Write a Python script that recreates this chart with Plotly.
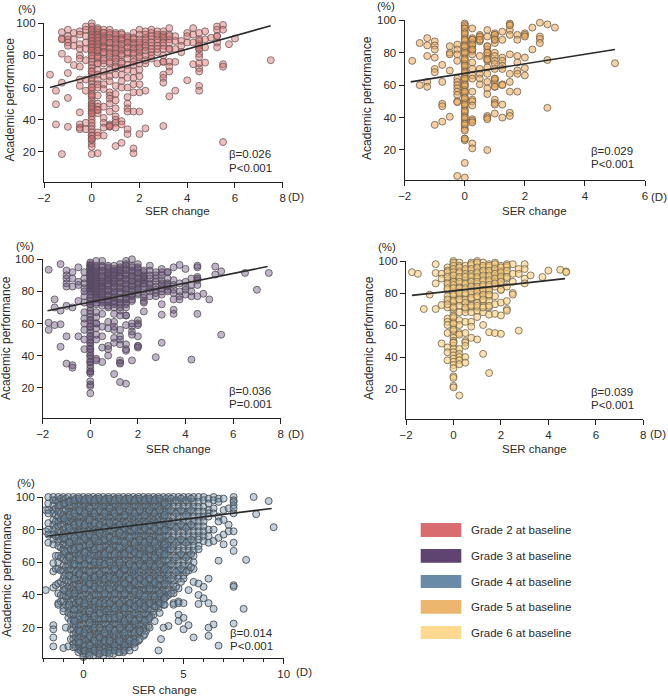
import plotly.graph_objects as go

FONT = "Liberation Sans"
TEXT = "#2b2b2b"

# ---------- data: SER change columns and the academic performance values read in each ----------
g2_x = [-1.75,-1.5,-1.25,-1,-0.75,-0.5,-0.25,0,0.25,0.5,0.75,1,1.25,1.5,1.75,2,2.25,2.5,2.75,3,3.25,3.5,3.75,4,4.25,4.5,4.75,5,5.25,5.5,5.75,6,7.5]
g2_y = [
 [68],[58,49.5,37],[94.5,90.5,90,81,63,18.5],[96,92,90,88,86,77.5,69,53.5,35.5],[94,90,86,74],
 [95,93,87,84,80,78,73,65,61,44.5,37,35,34],[98,96,92,88,84,77,65,58,38,34],
 [100,98,96,95,94,92,91,90,89,88,87,86,85,84,82,80,78,76,74,72,70,68,66,64,62,60,58,56,54,52,50,49,48,46,45,44,42,40,38,36,34,32,30,28,27,25,23,18.5],
 [97,95,94,92,91,90,88,86,84,82,80,78,75,71,68,65,62,60,55,50,48,46,44,32,30,19],
 [96,94,92,90,88,86,84,82,78,75,70,67,62,59,48,41,38,35,30],
 [96,93,90,88,85,82,79,75,71,67,64,57,55,53,50,45,37,36,35.5],
 [94,92,90,88,85,82,79,76,72,68,61,56,52,47,42,40,38,35,23.5],
 [94,91,89,86,83,80,76,72,68,64,60,39,37,25.5],
 [92,90,88,85,81,78,74,71,66,60,54,50,47,45,34,31],
 [94,91,88,85,82,78,74,70,66,62,57,45,22,19],
 [96,93,90,87,84,80,75,71,67,62,57,45,31],
 [95,91,88,85,80,75,58,34.5],[96,94,90,86,82,78],[95,92,88,82,75],
 [95,92,90,86,80,76,68,66,63,36],[97,93,90,84,76,73,70,54.5],[92,76,58],[89,86,82],[94,92,88,64.5],
 [97,93,88,74.5],[94,90,87,84,81,79,75,72,70,61,58],[95,90,85,75.5],[91],[98,96,92,88,85],
 [99,96,74.5,73,26],[87],[90.5],[77]]
# repeated readings where the reference marks pile up
g2_x_more = [0,0.25,0.5,0.75,1,1.25,1.5,1.75,2,2.25,2.5,2.75,3,3.25,3.5,4.5,5.25]
g2_y_more = [
 [96,93,91,89,87,85,83,80,70,60,55,47,44,30,28],
 [96,93,91,89,87,85,83,79,75,46],
 [94,91,89,85,82,77],
 [94,91,88,84,81,76,36],
 [93,90,87,84,81,78,73],
 [93,90,87,84,81,75],
 [91,88,85,82],
 [90,87,84,81,76],
 [88,85,82,79],
 [93,90,86,83,77],[92,88,84,80],[93,90,86,84],[93,91,88,84,76],[92,88,84],[89,84],[89,86,84],[92]]
g2_line_x = [-1.75,7.5]
g2_line_y = [60,98.5]

g3_x = [-1.75,-1.5,-1.25,-1,-0.75,-0.5,-0.25,0,0.25,0.5,0.75,1,1.25,1.5,1.75,2,2.25,2.5,2.75,3,3.25,3.5,3.75,4,4.25,4.5,4.75,5,5.25,5.5,6.5,7,7.5]
g3_y = [
 [93.5,60.5,56],[75,70,59],[97,68,59.5,45.5],[93,90,88,85,83,71,52,35],[92,88,83,70,34,32.5],[95,86,84,74,52],
 [92,88,85,82,80,77,73,67,63,60,56,50,44],
 [98,97,96,95,94,93,92,91,90,89,88,87,86,85,84,83,82,81,80,78,76,74,72,70,68,66,64,62,60,58,56,54,52,50,48,46,44,42,40,38,36,34,32,30,29,24,22,21,16.5],
 [99,96,94,92,90,88,86,84,82,80,78,76,72,67,64,60,57,53,50,38,37],
 [99,96,93,90,87,85,83,80,78,74,71,66,58,52,45,36],
 [96,94,91,89,87,84,81,78,74,71,70,61,57,46,44,40],
 [96,93,91,88,86,83,80,77,74,70,66,61,58,56,51,48,28.5],
 [97,94,92,89,86,83,80,76,73,70,68,56,52,50,47,37,35.5,35,23.5],
 [99,97,94,91,88,85,82,79,76,73,70,65,59,47,44,43,22.5],
 [100,96,93,90,87,84,81,78,75,60,58,55,53,37],
 [97,94,92,89,86,84,81,78,62,60,52,46,45],
 [93,90,88,85,78,74,73,67.5],[96,93,88,84,80],[92,88,83,79,77,39],[94,90,87,85,82,80,72,65.5,48],
 [92,88,85,81,80],[95,87,84,81,79,75,68.5,66],[96.5,85,80,77,75],[94,86,83,81,78],[88,84,80,77,37.5],
 [96,95,89,87,84,77,66],[78.5],[75],[95.5,90.5],[92.5,53],[91.5],[81],[91.5]]
g3_x_more = [0,0.25,0.5,0.75,1,1.25,1.5,1.75,2,2.25,2.5,2.75,3,3.25,4.5]
g3_y_more = [
 [96,94,92,90,88,86,84,82,80,76,72,62,58,52,48,44,40,36,30],
 [95,93,91,89,87,85,83,81,79,77,75,73,60],
 [95,92,89,86,84,82,79,77,75,73],
 [95,92,90,88,85,83,80,77,75,73],
 [94,92,90,87,85,82,79,76,73,72],
 [95,93,90,88,85,82,79,75,72,65],
 [96,93,90,87,84,81,78,75,72,65],
 [95,92,89,86,83,80,77,74],
 [95,91,88,85,82,79,59,46],
 [92,89,87,85,83,81,76],[90,85,82,77],[90,86,81],[92,84,78],[92,84,83],[88]]
g3_line_x = [-1.8,7.45]
g3_line_y = [68,95.5]

g5_x = [-1.75,-1.5,-1.25,-1,-0.75,-0.5,-0.25,0,0.25,0.5,0.75,1,1.25,1.5,1.75,2,2.25,2.5,2.75,3,5]
g5_y = [
 [75],[86,60],[89,84.5,78,62,59],[87,84.5,82,77,70,68,35.5],[72.5,62,48.5,47,37.5],[84,80,79,69,40.5],
 [85,82,79,75,64,62,60,58,56,54,50,49.5,4],
 [98,96,95,93,91,89,87,85,83,81,79,77,75,73,71,69,67,65,63,61,59,57,55,53,51,49,47,45,43,41,39,37,35,33,27,26,12,3],
 [95,89,88,86,84,82,81,79,74,70,66,64,56,51,50,47.5,39,38,37,24,21],
 [91,90,88,87,78,70,67,64,60.5],
 [94,90,84,82,80,78,76,75,71,67,62,58,54.5,41,40,39,20],
 [92,91,89,88,86,80,78,75,73,70,64,63,61,59,51,49,48,42.5],
 [93,88,77,75,72,70,60.5,60,48,40],
 [98,97,94,91,79,67,62,56,43,41],
 [91,88,78,74,69,67,56],
 [92,91,90,77,70.5,66],[95.5,82],[98.5,90,88.5,86],[97.5,75.5,46],[95.5],[73.5]]
g5_x_more = [0,0.25,0.5,0.75,1,1.5]
g5_y_more = [[97,95,92,88,84,80,76,72,68,64,60,56,52,48,44,40,36,32,27],[88,85,82],[90,88],[84,80,76],[91,88,64,59],[97]]
g5_line_x = [-1.8,5]
g5_line_y = [62,82]

g6_x = [-1.75,-1.5,-1.25,-1,-0.75,-0.5,-0.25,0,0.25,0.5,0.75,1,1.25,1.5,1.75,2,2.25,2.5,2.75,3,3.25,3.75,4,4.5,4.75]
g6_y = [
 [93],[92],[70],[79],[98,92.5,86,70],[92,89,72.5,48.5],[96,94,91,88,85,82,78,75,71,64,62,60,55,46,43,38],
 [100,98,96,94,92,90,88,86,84,82,80,78,76,74,72,70,68,66,64,62,60,58,56,54,52,50,49,47,45,43,41,39,37,35,33,28,27,22,21],
 [99,97,94,92,89,86,84,81,78,75,72,68,63,60,55,54,45,42,40,38,35.5,16],
 [97,94,91,88,85,82,79,76,73,70,68,62,55,50,49,47,40,36.5],
 [99,97,94,91,88,85,82,79,76,73,71,68,62,59,52],
 [100,98,95,92,89,86,83,80,77,74,71,69,65,51],
 [99,96,93,90,87,84,81,78,75,72,68,60,42],
 [98,96,93,90,87,84,81,78,75,71,66.5,55.5,30],
 [99,96,93,90,87,84,78,73,67,55],
 [97,94,91,88,85,82,74,66,54.5],
 [98,96,92,89,84,75,70,69],[98,92,87,80,79],[95,92,56.5],[98,95,89,86],[91],[90],[94],[94.5],[93.5,93]]
g6_x_more = [-0.25,0,0.25,0.5,0.75,1,1.25,1.5,1.75,2,2.25]
g6_y_more = [
 [93,90,86,83,76,73],[99,97,95,93,91,87,85,83,79,75,71,65,61,57,49],[96,93,90,87,83,80,76],
 [95,92,90,86,83,80,74,71],[98,95,92,90,87,84,81,77,72],[99,96,93,90,87,84,81,78,72],
 [97,94,91,88,85,82,79,76,71],[97,94,91,88,85,82,79,72],[98,95,92,89,86],[96,93,90,87,82],[97,94,90]]
g6_line_x = [-1.75,4.7]
g6_line_y = [78.5,89]

g4_x = [-1.875,-1.75,-1.5,-1.375,-1.25,-1.125,-1,-0.875,-0.75,-0.625,-0.5,-0.375,-0.25,-0.125,0,0.125,0.25,0.375,0.5,0.625,0.75,0.875,1,1.125,1.25,1.375,1.5,1.625,1.75,1.875,2,2.125,2.25,2.375,2.5,2.625,2.75,2.875,3,3.125,3.25,3.375,3.5,3.625,3.75,3.875,4,4.125,4.25,4.5,4.75,5,5.25,5.5,5.75,6,6.25,6.5,6.75,7,7.25,7.5,8,8.125,8.5,8.625,9.25,9.5]
g4_y = [
 [92,79,43],
 [100,96,92,90,84,80,77,72],
 [100,98,95,92,90,86,83,80,77,74,71,59.5,54.5,44.5,21.5,19,14,8.5],
 [98,93,89,85,81,76,64,56,46],
 [100,97,94,91,88,85,82,79,76,73,70,64,60,56,47,41,35,34],
 [99,95,90,86,83,78,74,69,63,55,48,40,36],
 [100,98,95,92,89,86,83,80,77,74,71,68,65,62,58,55,50,46,43,40,36,32,30,7.5],
 [99,96,92,88,85,81,78,74,70,66,61,57,53,49,44,39,34,20],
 [100,97,94,91,88,85,82,79,76,73,70,67,64,61,58,55,52,48,45,42,39,36,33,29,26,8.5],
 [98,95,91,87,84,80,76,72,68,64,60,56,52,48,44,40,36,31,28,24,19,13],
 [100,97,94,91,88,85,82,79,76,73,70,67,64,61,58,55,52,49,46,43,40,37,34,31,28,25,22,19,16,13,10,8],
 [99,95,92,88,84,81,77,73,69,65,62,58,54,50,47,43,39,35,32,28,24,21,17,14,11,8],
 [100,97,94,91,88,85,82,79,76,73,70,67,64,61,58,55,52,49,46,43,40,37,34,31,28,25,22,19,16,13,10,7,5],
 [98,95,91,87,84,80,76,73,69,65,61,58,54,50,47,43,39,36,32,29,25,21,18,14,11,8,6],
 [100,97,94,91,88,85,82,79,76,73,70,67,64,61,58,55,52,49,46,43,40,37,34,31,28,25,22,19,16,13,10,8,6,4,2],
 [99,95,92,88,84,81,77,74,70,66,63,59,55,52,48,44,41,37,33,30,26,23,19,15,12,9,6,4],
 [100,97,94,91,88,85,82,79,76,73,70,67,64,61,58,55,52,49,46,43,40,37,34,31,28,25,22,19,16,13,10,7,4],
 [98,94,91,87,83,80,76,72,69,65,61,58,54,50,47,43,39,36,32,28,25,21,18,14,10,7],
 [100,97,94,91,88,85,82,79,76,73,70,67,64,61,58,55,52,49,46,43,40,37,34,31,28,25,22,19,16,13,10,7,3],
 [99,95,91,88,84,80,77,73,69,66,62,58,55,51,47,44,40,36,33,29,25,22,18,14,11,8,5],
 [100,97,94,91,88,85,82,79,76,73,70,67,64,61,58,55,52,49,46,43,40,37,34,31,28,25,22,19,16,13,10,7,4],
 [98,94,91,87,83,80,76,72,69,65,62,58,54,51,47,43,40,36,32,29,25,22,18,14,11,8,5],
 [100,97,94,91,88,85,82,79,76,73,70,67,64,61,58,55,52,49,46,43,40,37,34,31,28,25,22,19,16,13,10,7,3],
 [99,95,91,88,84,81,77,73,70,66,62,59,55,51,48,44,40,37,33,30,26,22,19,15,11,8,5],
 [100,97,94,91,88,85,82,79,76,73,70,67,64,61,58,55,52,49,46,43,40,37,34,31,28,25,22,19,16,13,10,7,5],
 [98,94,91,87,83,80,76,72,69,65,61,58,54,50,47,43,40,36,32,29,25,21,18,14,11,8],
 [100,97,94,91,88,85,82,79,76,73,70,67,64,61,58,55,52,49,46,43,40,37,34,31,28,25,22,19,16,13,10,7,4],
 [99,95,92,88,84,81,77,73,70,66,62,59,55,51,48,44,41,37,33,30,26,22,19,15,11,8],
 [100,97,94,91,88,85,82,79,76,73,70,67,64,61,58,55,52,49,46,43,40,37,34,31,28,25,22,19,16,13,10,7,5],
 [98,94,91,87,84,80,76,73,69,65,62,58,54,51,47,44,40,36,33,29,25,22,18,15,11,8],
 [100,97,94,91,88,85,82,79,76,73,70,67,64,61,58,55,52,49,46,43,40,37,34,31,28,25,22,19,16,13,10,7,5],
 [99,95,91,88,84,80,77,73,69,66,62,58,55,51,47,44,40,36,33,29,26,22,18,15,11,8],
 [100,97,94,91,88,85,82,79,76,73,70,67,64,61,58,55,52,49,46,43,40,37,34,31,28,25,22,19,16,13,10,8],
 [98,94,90,87,83,79,76,72,68,65,61,57,54,50,46,43,39,35,32,28,24,21,17,13,10],
 [100,97,94,91,88,85,82,79,76,73,70,67,64,61,58,55,52,49,46,43,40,37,34,31,28,25,22,19,16,13,10],
 [99,95,91,87,84,80,76,73,69,65,62,58,54,51,47,43,40,36,32,29,25,21,18,14,11],
 [100,97,94,91,88,85,82,79,76,73,70,67,64,61,58,55,52,49,46,43,40,37,34,31,28,25,22,19,16,12],
 [98,94,91,87,83,80,76,72,69,65,61,58,54,50,47,43,39,36,32,28,25,21,17],
 [100,97,94,91,88,85,82,79,76,73,70,67,64,61,58,55,52,49,46,43,40,37,34,31,28,25,22,19,15],
 [99,95,91,87,84,80,76,73,69,65,62,58,54,51,47,43,40,36,32,28,25,21,18],
 [100,97,94,91,88,85,82,79,76,73,70,67,64,61,58,55,52,49,46,43,40,37,34,31,28,25,21],
 [98,94,90,87,83,79,76,72,68,65,61,57,54,50,46,43,39,35,31,27],
 [100,97,94,91,88,85,82,79,76,73,70,67,64,61,58,55,52,49,46,43,40,37,34,30,28],
 [99,95,91,87,84,80,76,73,69,65,62,58,54,51,47,43,40,36,33],
 [100,97,94,91,88,85,82,79,76,73,70,67,64,61,58,55,52,49,46,43,40,37,34,32,6],
 [98,94,90,86,83,79,75,72,68,64,61,57,53,50,46,42,39,35,13],
 [100,97,94,91,88,85,82,79,76,73,70,67,64,61,58,55,52,49,46,43,40,37,34,20],
 [99,95,91,87,83,80,76,72,69,65,61,57,54,50,46,42,39],
 [100,97,94,91,88,85,82,79,76,73,70,67,64,61,58,55,52,49,46,43,40,21],
 [100,97,94,91,88,85,82,79,76,73,70,67,64,61,58,55,52,49,46,43,41,35,34],
 [100,97,94,91,88,85,82,79,76,73,70,67,64,61,58,55,52,50,44,36,35,28,24],
 [100,97,94,91,88,85,82,79,76,73,70,67,64,61,58,55,52,50,35,26,19],
 [100,97,94,91,88,85,82,79,76,73,70,67,64,61,58,55,43,21.5],
 [100,97,94,91,88,85,82,79,76,73,70,67,64,60,56,48,14],
 [100,97,94,91,88,85,82,79,76,74,70,68,47,40,34.5],
 [100,98,94,91,88,85,82,79,76,73,45,38],
 [99,96,92,90,88,80,76,72,50,35,20,15],
 [100,98,93,90,80,73,31.5,22],
 [99,97,88,85,75,61,9],
 [99,92,86,71,77],
 [93,83,79],
 [100,98,97,95,93,90,79,72,67,46,45,22.5],
 [31.5],[61.5],[100],[89.5],[97.5],[81.5],[95]]
# second pass through the cloud, off the main columns, where marks overlap heavily
g4_x_more = [-1.2,-0.95,-0.7,-0.45,-0.2,0.06,0.31,0.56,0.81,1.06,1.31,1.56,1.81,2.06,2.31,2.56,2.81,3.06,3.31,3.56,3.81,4.06,4.375,4.625,4.875,5.125,5.375]
g4_y_more = [
 [96,87,75,67,52,43],
 [97,89,81,72,63,52,41,34],
 [98,90,83,75,68,59,50,41,31,24],
 [99,92,84,78,69,62,53,45,36,27,18,11],
 [98,90,83,75,66,59,51,44,35,26,17,9,6],
 [99,93,86,77,71,62,54,47,38,30,23,15,9,5,3],
 [98,90,84,75,68,60,51,45,36,27,20,12,6],
 [99,92,83,78,69,60,53,44,35,29,20,14,6,4],
 [98,90,81,74,65,59,50,41,35,26,17,12,5],
 [99,93,84,75,68,60,51,44,35,26,20,12,6,4],
 [98,90,81,74,65,56,50,41,32,26,18,9,6],
 [99,92,83,78,69,60,53,44,35,27,20,12,5],
 [98,89,81,72,65,56,47,41,32,24,17,9,6],
 [99,92,83,75,68,59,50,44,35,26,20,12,6],
 [98,90,81,72,66,57,48,42,33,24,17,11,8],
 [99,92,83,74,65,59,50,41,35,26,18,13],
 [98,89,81,72,63,57,48,39,33,24,16],
 [99,92,83,74,68,59,50,44,35,26,20],
 [98,90,81,72,63,57,48,39,33,24],
 [99,92,83,75,66,59,50,41,35,29],
 [96,89,80,71,65,56,47,38,34],
 [99,92,83,74,68,59,50,41],
 [98,90,81,72,63,54,45],
 [99,92,83,74,65,56,48],
 [98,89,81,72,63,54],
 [99,92,83,74,65,57],
 [98,90,81,72,64]]
g4_line_x = [-1.85,9.4]
g4_line_y = [76,93]

y_ticks = [20,40,60,80,100]
stats = [("β=0.026","P<0.001"),("β=0.029","P<0.001"),("β=0.036","P=0.001"),("β=0.039","P<0.001"),("β=0.014","P<0.001")]
legend_labels = ["Grade 2 at baseline","Grade 3 at baseline","Grade 4 at baseline","Grade 5 at baseline","Grade 6 at baseline"]
legend_colors = ["#D96C6E","#5F4371","#6A8BA8","#EDB66E","#FFD98F"]

W, H = 668, 697
def fx(p): return p / W
def fy(p): return 1 - p / H

# panel geometry in pixels: x-axis left/right, y at value 100, y at axis
panels = [
 dict(x=g2_x+g2_x_more, y=g2_y+g2_y_more, lx=g2_line_x, ly=g2_line_y, fill="rgba(217,108,110,0.45)", edge="rgba(105,85,85,0.75)",
      box=(44,282.7,23.3,182), xr=[-2,8], yr=[1.1,100], dt=2,
      title=(9.5,100), xt=(177.7,211), d=(296,197), pct=(27,9), st=(229,154,168)),
 dict(x=g5_x+g5_x_more, y=g5_y+g5_y_more, lx=g5_line_x, ly=g5_line_y, fill="rgba(237,170,90,0.55)", edge="rgba(110,95,75,0.8)",
      box=(404.7,645,20.3,180.3), xr=[-2,6], yr=[1.3,100], dt=2,
      title=(367,98), xt=(534,211), d=(659,197), pct=(386,6), st=(591,151,164)),
 dict(x=g3_x+g3_x_more, y=g3_y+g3_y_more, lx=g3_line_x, ly=g3_line_y, fill="rgba(95,67,113,0.4)", edge="rgba(85,80,90,0.8)",
      box=(42.7,280.7,259.3,417.7), xr=[-2,8], yr=[1.3,100], dt=2,
      title=(6,338), xt=(178,449), d=(296,434), pct=(25,246), st=(229,391,404)),
 dict(x=g6_x+g6_x_more, y=g6_y+g6_y_more, lx=g6_line_x, ly=g6_line_y, fill="rgba(250,205,125,0.6)", edge="rgba(110,100,80,0.8)",
      box=(406,643.3,261,419), xr=[-2,8], yr=[1.3,100], dt=2,
      title=(369,338), xt=(534,449), d=(658,434), pct=(387,247), st=(591,392,405)),
 dict(x=g4_x+g4_x_more, y=g4_y+g4_y_more, lx=g4_line_x, ly=g4_line_y, fill="rgba(106,139,168,0.4)", edge="rgba(80,84,90,0.95)",
      box=(43.3,283.7,497,657.7), xr=[-2,10], yr=[1.6,100], dt=5,
      title=(7,575), xt=(164,690), d=(304,672), pct=(26,483), st=(230,633,646)),
]

fig = go.Figure()
annots = []
def note(x, y, text, anchor="center", angle=0, size=11.5):
    annots.append(dict(x=fx(x), y=fy(y), xref="paper", yref="paper", text=text, showarrow=False,
                       xanchor=anchor, yanchor="middle", textangle=angle, borderpad=0, borderwidth=0,
                       font=dict(family=FONT, size=size, color=TEXT)))

layout = {}
for i, p in enumerate(panels):
    n = "" if i == 0 else str(i + 1)
    x0, x1, y0, y1 = p["box"]
    xs, ys = [], []
    for cx, col in zip(p["x"], p["y"]):
        xs += [cx] * len(col)
        ys += col
    fig.add_trace(go.Scatter(x=xs, y=ys, mode="markers", xaxis="x"+n, yaxis="y"+n, cliponaxis=False,
                             marker=dict(size=7, color=p["fill"], line=dict(color=p["edge"], width=1)),
                             showlegend=False, hoverinfo="skip"))
    fig.add_trace(go.Scatter(x=p["lx"], y=p["ly"], mode="lines", xaxis="x"+n, yaxis="y"+n, cliponaxis=False,
                             line=dict(color="#2a2a2a", width=1.6), showlegend=False, hoverinfo="skip"))
    xa = dict(domain=[fx(x0), fx(x1)], range=p["xr"], anchor="y"+n, dtick=p["dt"], tick0=0, showgrid=False, zeroline=False,
              automargin=False, showline=True, linecolor="#222", linewidth=1.3, ticks="outside", ticklen=5, tickwidth=1.2, tickcolor="#222",
              tickfont=dict(family=FONT, size=11.5, color=TEXT))
    if p["dt"] == 5:
        xa["minor"] = dict(dtick=1, tick0=0, ticks="outside", ticklen=3, tickwidth=1, tickcolor="#222", showgrid=False)
    ya = dict(domain=[fy(y1), fy(y0)], range=p["yr"], anchor="x"+n, tickvals=y_ticks, showgrid=False, zeroline=False,
              automargin=False, showline=True, linecolor="#222", linewidth=1.3, ticks="outside", ticklen=5, tickwidth=1.2, tickcolor="#222",
              tickfont=dict(family=FONT, size=11.5, color=TEXT))
    layout["xaxis"+n] = xa
    layout["yaxis"+n] = ya
    note(*p["title"], "Academic performance", angle=-90, size=12)
    note(*p["xt"], "SER change")
    note(*p["d"], "(D)")
    note(*p["pct"], "(%)")
    note(p["st"][0], p["st"][1], stats[i][0], anchor="left")
    note(p["st"][0], p["st"][2], stats[i][1], anchor="left")

shapes = []
rows = [(523,537),(549,562.7),(575,588),(600,613.7),(626,639)]
for (top, bot), col, lab in zip(rows, legend_colors, legend_labels):
    shapes.append(dict(type="rect", xref="paper", yref="paper", x0=fx(420.7), x1=fx(461.3), y0=fy(bot), y1=fy(top),
                       fillcolor=col, line=dict(width=0)))
    note(471, (top + bot) / 2, lab, anchor="left")

fig.update_layout(width=W, height=H, margin=dict(l=0, r=0, t=0, b=0, autoexpand=False), paper_bgcolor="white", plot_bgcolor="white",
                  annotations=annots, shapes=shapes, showlegend=False, **layout)
fig.write_html("out.html", config={"displayModeBar": False},
               post_script="document.body.style.margin='0';document.documentElement.style.overflow='hidden';")
